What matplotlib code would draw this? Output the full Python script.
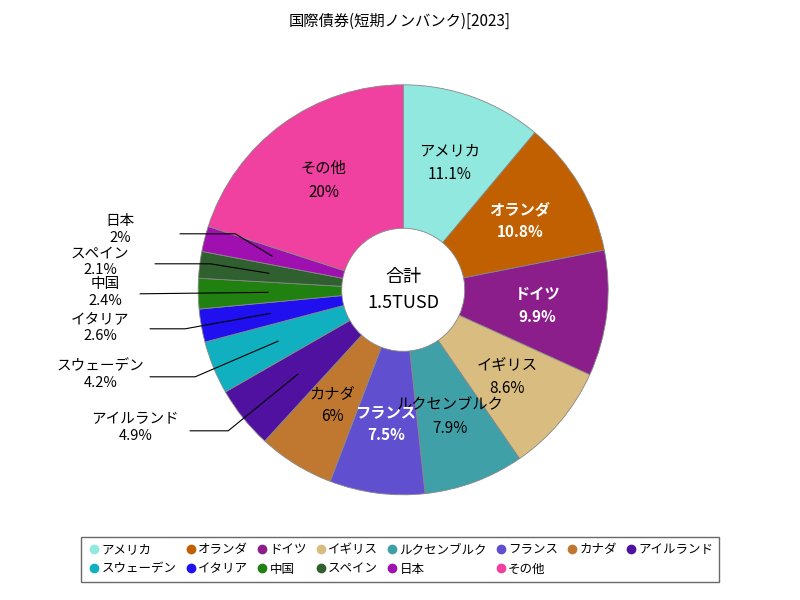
import matplotlib
matplotlib.use("Agg")
import matplotlib.pyplot as plt
import numpy as np

plt.rcParams['font.family'] = ['Noto Sans CJK JP']

labels = ["アメリカ","オランダ","ドイツ","イギリス","ルクセンブルク","フランス","カナダ","アイルランド","スウェーデン","イタリア","中国","スペイン","日本","その他"]
values = [11.1,10.8,9.9,8.6,7.9,7.5,6,4.9,4.2,2.6,2.4,2.1,2,20]
pct_text = ["11.1%","10.8%","9.9%","8.6%","7.9%","7.5%","6%","4.9%","4.2%","2.6%","2.4%","2.1%","2%","20%"]
colors = ["#90e8de","#c06000","#8b1e8b","#d8bc80","#40a0a8","#6050d0","#c07830","#5010a0",
          "#10b0c0","#2010f0","#208010","#306030","#a010b0","#f040a0"]
white_text = [False,True,True,False,False,True,False,True,False,False,False,False,False,False]

fig = plt.figure(figsize=(8,6), dpi=100)
ax = fig.add_axes([0.504-0.25625, 0.517-0.34167, 0.5125, 0.68333])
wedges, _ = ax.pie(values, colors=colors, startangle=90, counterclock=False,
                   wedgeprops=dict(width=0.7, edgecolor="#888888", linewidth=0.6), radius=1.0)
ax.set_xlim(-1,1); ax.set_ylim(-1,1); ax.set_aspect('equal')

def px(x, y):
    return ((x-403)/205, (290-y)/205)

outside = {12:((120,230),[(180,234),(235,234)]),
           11:((100,262),[(155,264),(210,264)]),
           10:((105,293),[(140,294)]),
           9:((100,328),[(150,329),(185,329)]),
           8:((100,375),[(150,377),(195,377)]),
           7:((135,428),[(190,431),(228,431)])}

for i, w in enumerate(wedges):
    ang = np.deg2rad((w.theta1+w.theta2)/2)
    r = 0.66
    tx, ty = r*np.cos(ang), r*np.sin(ang)
    if i in outside:
        (cx, cy), pts = outside[i]
        x0, y0 = px(cx, cy)
        ax.text(x0, y0, labels[i]+"\n"+pct_text[i], ha='center', va='center', fontsize=10.5, linespacing=1.25)
        xs = [px(*p)[0] for p in pts] + [tx]
        ys = [px(*p)[1] for p in pts] + [ty]
        ax.plot(xs, ys, color='black', lw=0.8, clip_on=False)
    else:
        c = 'white' if white_text[i] else 'black'
        ax.text(tx, ty, labels[i]+"\n"+pct_text[i], ha='center', va='center', fontsize=11,
                color=c, linespacing=1.5, fontweight='bold' if white_text[i] else 'normal')

ax.text(0, 0, "合計\n1.5TUSD", ha='center', va='center', fontsize=13, linespacing=1.6)

fig.text(0.5, 0.965, "国際債券(短期ノンバンク)[2023]", ha='center', va='center', fontsize=11)

handles = [plt.Line2D([],[],marker='o',ls='',color=c,markersize=6) for c in colors]
blank = plt.Line2D([],[],ls='',marker='')
order = [0,8,1,9,2,10,3,11,4,12,5,13,6,None,7,None]
h2 = [handles[k] if k is not None else blank for k in order]
l2 = [labels[k] if k is not None else "" for k in order]
fig.legend(h2, l2, loc='lower center', bbox_to_anchor=(0.5,0.02), ncol=8,
           fontsize=9, frameon=True, fancybox=False, edgecolor='#444444',
           handletextpad=0.0, columnspacing=0.5, borderpad=0.5, handlelength=1.2)

fig.savefig("out.png", dpi=100)
